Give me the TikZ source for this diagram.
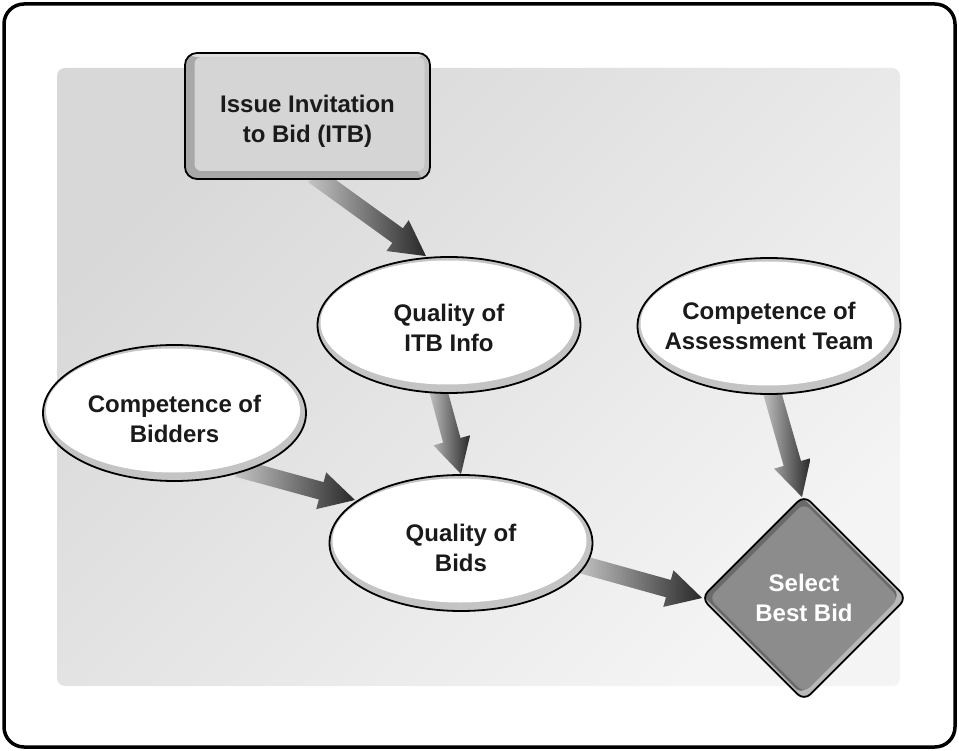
\documentclass[tikz,border=0pt]{standalone}
\usepackage{fontspec}
\setmainfont{Liberation Sans}
\usetikzlibrary{shapes.geometric,calc}
\pgfdeclarelayer{panel}
\pgfdeclarelayer{arrows}
\pgfsetlayers{panel,arrows,main}
\definecolor{ringgray}{HTML}{C4C4C4}
\definecolor{panelA}{HTML}{D8D8D8}
\definecolor{panelB}{HTML}{F4F4F4}
\definecolor{arrlight}{HTML}{C4C4C4}
\definecolor{arrdark}{HTML}{282828}
\definecolor{boxband}{HTML}{A8A8A8}
\definecolor{boxright}{HTML}{C2C2C2}
\definecolor{boxtop}{HTML}{E0E0E0}
\definecolor{boxface}{HTML}{D5D5D5}
\definecolor{dlight}{HTML}{B8B8B8}
\definecolor{ddark}{HTML}{6A6A6A}
\definecolor{dface}{HTML}{8C8C8C}
\definecolor{txt}{HTML}{1A1A1A}
\newcommand\dfont{\fontsize{24}{30}\selectfont\bfseries}
\newcommand\tpush[1]{\rule{0pt}{#1pt}}
\newcommand\gradarrow[2]{%
  \path let \p1=($(#2)-(#1)$) in \pgfextra{%
    \pgfmathsetmacro\garang{atan2(\y1,\x1)}%
    \pgfmathsetmacro\garlen{veclen(\x1,\y1)}%
    \global\let\garang\garang\global\let\garlen\garlen};
  \shade[shift={(#1)}, rotate=\garang, left color=arrlight, right color=arrdark]
    (0pt,-9pt) -- (\garlen pt-35pt,-9pt) -- (\garlen pt-35pt,-19pt) -- (\garlen pt,0pt)
    -- (\garlen pt-35pt,19pt) -- (\garlen pt-35pt,9pt) -- (0pt,9pt) -- cycle;
}
\tikzset{
  bubble/.style={ellipse, draw=black, line width=1.8pt, fill=ringgray,
    minimum width=263, minimum height=136, inner sep=0pt, align=center,
    font=\dfont, text=txt,
    path picture={\fill[white] ($(path picture bounding box.center)+(-1.5,-2.5)$)
      ellipse [x radius=127, y radius=62];}},
  itbbox/.style={rectangle, draw=black, line width=1.8pt, fill=boxband,
    rounded corners=12, minimum width=245, minimum height=126, inner sep=0pt,
    align=center, font=\dfont, text=txt,
    path picture={
      \fill[boxtop] ($(path picture bounding box.center)+(-123,-64)$) rectangle ($(path picture bounding box.center)+(123,-59)$);
      \fill[boxright] ($(path picture bounding box.center)+(110,-64)$) rectangle ($(path picture bounding box.center)+(124,64)$);
      \fill[boxface, rounded corners=7] ($(path picture bounding box.center)+(-113,-59)$) rectangle ($(path picture bounding box.center)+(117,55)$);
    }},
  selbox/.style={diamond, aspect=1, draw=black, line width=1.8pt, fill=dlight,
    minimum width=206, minimum height=206, inner sep=0pt, rounded corners=9,
    align=center, text=white, font=\dfont,
    path picture={
      \fill[ddark, rounded corners=8] ($(path picture bounding box.center)+(-3,-102)$) -- ++(99,99) -- ++(-99,99) -- ++(-99,-99) -- cycle;
      \fill[dface, rounded corners=8] ($(path picture bounding box.center)+(0,-95)$) -- ++(95,95) -- ++(-95,95) -- ++(-95,-95) -- cycle;
    }},
}
\begin{document}
\begin{tikzpicture}[x=1pt, y=-1pt]
\useasboundingbox (0,0) rectangle (959,751);
% outer frame
\draw[line width=3.5pt, rounded corners=20] (4,4) rectangle (955,747);
% grey panel
\begin{pgfonlayer}{panel}
\shade[rounded corners=8, top color=panelA, bottom color=panelB, shading angle=45] (57,68) rectangle (900,686);
\end{pgfonlayer}
% nodes
\node[itbbox] (itb) at (307.5,116) {\tpush{28}Issue Invitation\\to Bid (ITB)};
\node[bubble] (q1) at (449,325) {\tpush{24}Quality of\\ITB Info};
\node[bubble] (bidders) at (174.5,413) {\tpush{29.5}Competence of\\Bidders};
\node[bubble] (bids) at (461,543) {\tpush{28}Quality of\\Bids};
\node[bubble] (assess) at (769,326) {Competence of\\\makebox[140pt]{Assessment Team}};
\node[selbox] (sel) at (804,598) {Select\\Best Bid};
% arrow end points
\coordinate (t1) at ($(itb.south)+(6,-5)$);
\coordinate (h1) at ($(q1.north)+(-23,0)$);
\coordinate (t2) at ($(q1.south)+(-12,-8)$);
\coordinate (h2) at (bids.north);
\coordinate (t3) at ($(bidders.center)+(63,55)$);
\coordinate (h3) at ($(bids.center)+(-106,-43)$);
\coordinate (t4) at ($(assess.south)+(2,-6)$);
\coordinate (h4) at ($(sel.north)+(-2,3)$);
\coordinate (t5) at ($(bids.center)+(119,21)$);
\coordinate (h5) at ($(sel.west)+(2,0)$);
\begin{pgfonlayer}{arrows}
\gradarrow{t1}{h1}
\gradarrow{t2}{h2}
\gradarrow{t3}{h3}
\gradarrow{t4}{h4}
\gradarrow{t5}{h5}
\end{pgfonlayer}
\end{tikzpicture}
\end{document}
